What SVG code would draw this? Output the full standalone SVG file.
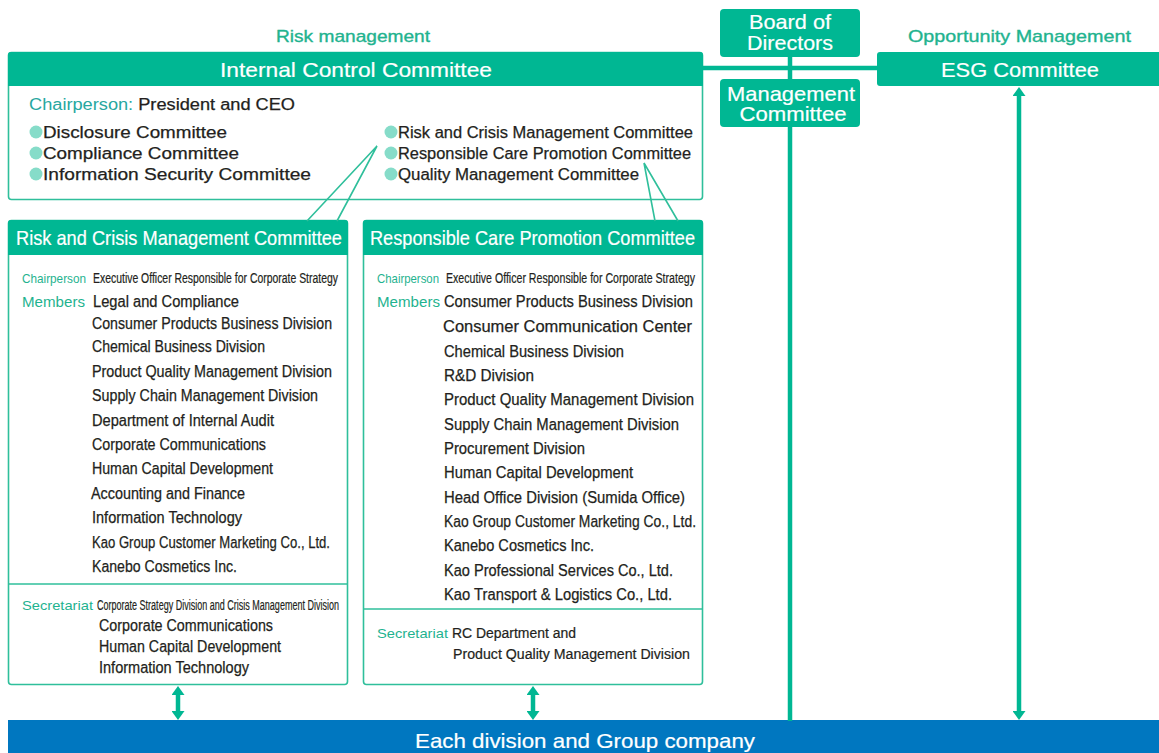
<svg xmlns="http://www.w3.org/2000/svg" width="1159" height="753" viewBox="0 0 1159 753">
  <defs>
    <style>
      text { font-family: "Liberation Sans", Arial, sans-serif; }
      .hdr { fill: #ffffff; font-size: 21px; stroke: #ffffff; stroke-width: 0.2; }
      .cap { fill: #1fb38f; font-size: 17px; stroke: #1fb38f; stroke-width: 0.35; }
      .body { fill: #231f20; font-size: 16px; stroke: #231f20; stroke-width: 0.25; }
      .sm { fill: #231f20; font-size: 14px; stroke: #231f20; stroke-width: 0.2; }
      .lbl { fill: #1fb38f; font-size: 15px; }
      .lbl-sm { fill: #1fb38f; font-size: 13px; }
      .box { fill: #ffffff; stroke: #2fbf9b; stroke-width: 1.6; }
      .head { fill: #00b793; }
      .thin { stroke: #2fbf9b; stroke-width: 1.6; fill: none; }
      .thick { stroke: #00b793; stroke-width: 4.5; fill: none; }
      .dot { fill: #86dcc9; }
    </style>
    <marker id="arrowhead" viewBox="0 0 9 13" refX="0" refY="6.5" markerWidth="9" markerHeight="13" markerUnits="userSpaceOnUse" orient="auto-start-reverse">
      <path d="M0,0 L9,6.5 L0,13 Z" fill="#00b793"/>
    </marker>
  </defs>

  <!-- section captions -->
  <text class="cap" x="276" y="42" textLength="154" lengthAdjust="spacingAndGlyphs">Risk management</text>
  <text class="cap" x="908" y="42" textLength="223" lengthAdjust="spacingAndGlyphs">Opportunity Management</text>

  <!-- Internal Control Committee -->
  <g id="internal-control">
    <rect class="box" x="8.5" y="52.5" width="694" height="147" rx="3"/>
    <path class="head" d="M8,55 Q8,52 11,52 L700,52 Q703,52 703,55 L703,86 L8,86 Z"/>
    <text class="hdr" x="220" y="77" textLength="272" lengthAdjust="spacingAndGlyphs">Internal Control Committee</text>
    <text x="29" y="110" font-size="16" textLength="266" lengthAdjust="spacingAndGlyphs"><tspan fill="#27a7a0">Chairperson: </tspan><tspan fill="#231f20" stroke="#231f20" stroke-width="0.25">President and CEO</tspan></text>
    <circle class="dot" cx="36" cy="132" r="6.5"/>
    <circle class="dot" cx="36" cy="153" r="6.5"/>
    <circle class="dot" cx="36" cy="174" r="6.5"/>
    <text class="body" x="43" y="138" textLength="184" lengthAdjust="spacingAndGlyphs">Disclosure Committee</text>
    <text class="body" x="43" y="159" textLength="196" lengthAdjust="spacingAndGlyphs">Compliance Committee</text>
    <text class="body" x="43" y="180" textLength="268" lengthAdjust="spacingAndGlyphs">Information Security Committee</text>
    <circle class="dot" cx="391" cy="132" r="6.5"/>
    <circle class="dot" cx="391" cy="153" r="6.5"/>
    <circle class="dot" cx="391" cy="174" r="6.5"/>
    <text class="body" x="398" y="138" textLength="295" lengthAdjust="spacingAndGlyphs">Risk and Crisis Management Committee</text>
    <text class="body" x="398" y="159" textLength="293" lengthAdjust="spacingAndGlyphs">Responsible Care Promotion Committee</text>
    <text class="body" x="398" y="180" textLength="241" lengthAdjust="spacingAndGlyphs">Quality Management Committee</text>
  </g>

  <!-- Board of Directors -->
  <g id="board">
    <rect class="head" x="720" y="9" width="140" height="48" rx="4"/>
    <text class="hdr" x="790" y="29" text-anchor="middle" font-size="18" textLength="82" lengthAdjust="spacingAndGlyphs">Board of</text>
    <text class="hdr" x="790" y="50" text-anchor="middle" font-size="18" textLength="86" lengthAdjust="spacingAndGlyphs">Directors</text>
  </g>

  <!-- Management Committee -->
  <g id="management">
    <rect class="head" x="720" y="79" width="140" height="48" rx="4"/>
    <text class="hdr" x="791" y="101" text-anchor="middle" font-size="17" textLength="128" lengthAdjust="spacingAndGlyphs">Management</text>
    <text class="hdr" x="793" y="121" text-anchor="middle" font-size="17" textLength="107" lengthAdjust="spacingAndGlyphs">Committee</text>
  </g>

  <!-- ESG Committee -->
  <g id="esg">
    <path class="head" d="M877,55 Q877,52 880,52 L1159,52 L1159,86 L880,86 Q877,86 877,83 Z"/>
    <text class="hdr" x="941" y="77" textLength="158" lengthAdjust="spacingAndGlyphs">ESG Committee</text>
  </g>

  <!-- Risk and Crisis Management Committee -->
  <g id="risk-crisis">
    <rect class="box" x="8.5" y="220.5" width="339" height="464" rx="3"/>
    <path class="head" d="M8,223 Q8,220 11,220 L345,220 Q348,220 348,223 L348,255 L8,255 Z"/>
    <line class="thin" x1="8" y1="584" x2="348" y2="584"/>
    <text class="hdr" x="16" y="245" font-size="19" textLength="326" lengthAdjust="spacingAndGlyphs">Risk and Crisis Management Committee</text>
    <text class="lbl-sm" x="22" y="283" textLength="64" lengthAdjust="spacingAndGlyphs">Chairperson</text>
    <text class="sm" x="93" y="283" font-size="13" textLength="245" lengthAdjust="spacingAndGlyphs">Executive Officer Responsible for Corporate Strategy</text>
    <text class="lbl" x="22" y="307" textLength="63" lengthAdjust="spacingAndGlyphs">Members</text>
    <text class="body" x="93" y="307" textLength="146" lengthAdjust="spacingAndGlyphs">Legal and Compliance</text>
    <text class="body" x="92" y="329" textLength="240" lengthAdjust="spacingAndGlyphs">Consumer Products Business Division</text>
    <text class="body" x="92" y="352" textLength="173" lengthAdjust="spacingAndGlyphs">Chemical Business Division</text>
    <text class="body" x="92" y="377" textLength="240" lengthAdjust="spacingAndGlyphs">Product Quality Management Division</text>
    <text class="body" x="92" y="401" textLength="226" lengthAdjust="spacingAndGlyphs">Supply Chain Management Division</text>
    <text class="body" x="92" y="426" textLength="182" lengthAdjust="spacingAndGlyphs">Department of Internal Audit</text>
    <text class="body" x="92" y="450" textLength="174" lengthAdjust="spacingAndGlyphs">Corporate Communications</text>
    <text class="body" x="92" y="474" textLength="181" lengthAdjust="spacingAndGlyphs">Human Capital Development</text>
    <text class="body" x="91" y="499" textLength="154" lengthAdjust="spacingAndGlyphs">Accounting and Finance</text>
    <text class="body" x="92" y="523" textLength="150" lengthAdjust="spacingAndGlyphs">Information Technology</text>
    <text class="body" x="92" y="548" textLength="238" lengthAdjust="spacingAndGlyphs">Kao Group Customer Marketing Co., Ltd.</text>
    <text class="body" x="92" y="572" textLength="145" lengthAdjust="spacingAndGlyphs">Kanebo Cosmetics Inc.</text>
    <text class="lbl-sm" x="22" y="610" font-size="14" textLength="71" lengthAdjust="spacingAndGlyphs">Secretariat</text>
    <text class="sm" x="97" y="610" font-size="13" textLength="242" lengthAdjust="spacingAndGlyphs">Corporate Strategy Division and Crisis Management Division</text>
    <text class="body" x="99" y="631" textLength="174" lengthAdjust="spacingAndGlyphs">Corporate Communications</text>
    <text class="body" x="99" y="652" textLength="182" lengthAdjust="spacingAndGlyphs">Human Capital Development</text>
    <text class="body" x="99" y="673" textLength="150" lengthAdjust="spacingAndGlyphs">Information Technology</text>
  </g>

  <!-- Responsible Care Promotion Committee -->
  <g id="responsible-care">
    <rect class="box" x="363.5" y="220.5" width="339" height="464" rx="3"/>
    <path class="head" d="M363,223 Q363,220 366,220 L700,220 Q703,220 703,223 L703,255 L363,255 Z"/>
    <line class="thin" x1="363" y1="609" x2="703" y2="609"/>
    <text class="hdr" x="370" y="245" font-size="19" textLength="325" lengthAdjust="spacingAndGlyphs">Responsible Care Promotion Committee</text>
    <text class="lbl-sm" x="377" y="283" textLength="62" lengthAdjust="spacingAndGlyphs">Chairperson</text>
    <text class="sm" x="446" y="283" font-size="13" textLength="249" lengthAdjust="spacingAndGlyphs">Executive Officer Responsible for Corporate Strategy</text>
    <text class="lbl" x="377" y="307" textLength="63" lengthAdjust="spacingAndGlyphs">Members</text>
    <text class="body" x="444" y="307" textLength="249" lengthAdjust="spacingAndGlyphs">Consumer Products Business Division</text>
    <text class="body" x="443" y="332" textLength="249" lengthAdjust="spacingAndGlyphs">Consumer Communication Center</text>
    <text class="body" x="444" y="357" textLength="180" lengthAdjust="spacingAndGlyphs">Chemical Business Division</text>
    <text class="body" x="444" y="381" textLength="90" lengthAdjust="spacingAndGlyphs">R&amp;D Division</text>
    <text class="body" x="444" y="405" textLength="250" lengthAdjust="spacingAndGlyphs">Product Quality Management Division</text>
    <text class="body" x="444" y="430" textLength="235" lengthAdjust="spacingAndGlyphs">Supply Chain Management Division</text>
    <text class="body" x="444" y="454" textLength="141" lengthAdjust="spacingAndGlyphs">Procurement Division</text>
    <text class="body" x="444" y="478" textLength="189" lengthAdjust="spacingAndGlyphs">Human Capital Development</text>
    <text class="body" x="444" y="503" textLength="241" lengthAdjust="spacingAndGlyphs">Head Office Division (Sumida Office)</text>
    <text class="body" x="444" y="527" textLength="252" lengthAdjust="spacingAndGlyphs">Kao Group Customer Marketing Co., Ltd.</text>
    <text class="body" x="444" y="551" textLength="150" lengthAdjust="spacingAndGlyphs">Kanebo Cosmetics Inc.</text>
    <text class="body" x="444" y="576" textLength="229" lengthAdjust="spacingAndGlyphs">Kao Professional Services Co., Ltd.</text>
    <text class="body" x="444" y="600" textLength="228" lengthAdjust="spacingAndGlyphs">Kao Transport &amp; Logistics Co., Ltd.</text>
    <text class="lbl-sm" x="377" y="638" font-size="14" textLength="71" lengthAdjust="spacingAndGlyphs">Secretariat</text>
    <text class="sm" x="452" y="638" textLength="124" lengthAdjust="spacingAndGlyphs">RC Department and</text>
    <text class="sm" x="453" y="659" textLength="237" lengthAdjust="spacingAndGlyphs">Product Quality Management Division</text>
  </g>

  <!-- Each division and Group company -->
  <g id="divisions">
    <rect x="8" y="720" width="1151" height="33" fill="#0077c0"/>
    <text class="hdr" x="415" y="748" font-size="20" textLength="340" lengthAdjust="spacingAndGlyphs">Each division and Group company</text>
  </g>

  <!-- connectors, drawn above the boxes -->
  <g id="connectors">
    <line class="thick" x1="702" y1="68" x2="878" y2="68"/>
    <line class="thick" x1="790" y1="57" x2="790" y2="79"/>
    <line class="thick" x1="790" y1="127" x2="790" y2="721"/>
    <line class="thick" x1="1019" y1="96" x2="1019" y2="711" marker-start="url(#arrowhead)" marker-end="url(#arrowhead)"/>
    <line class="thick" x1="178" y1="695" x2="178" y2="711" stroke-width="4" marker-start="url(#arrowhead)" marker-end="url(#arrowhead)"/>
    <line class="thick" x1="533" y1="695" x2="533" y2="711" stroke-width="4" marker-start="url(#arrowhead)" marker-end="url(#arrowhead)"/>
    <polyline class="thin" points="307,221 377,146 337,221"/>
    <polyline class="thin" points="655,221 644,163 678,221"/>
  </g>
</svg>
